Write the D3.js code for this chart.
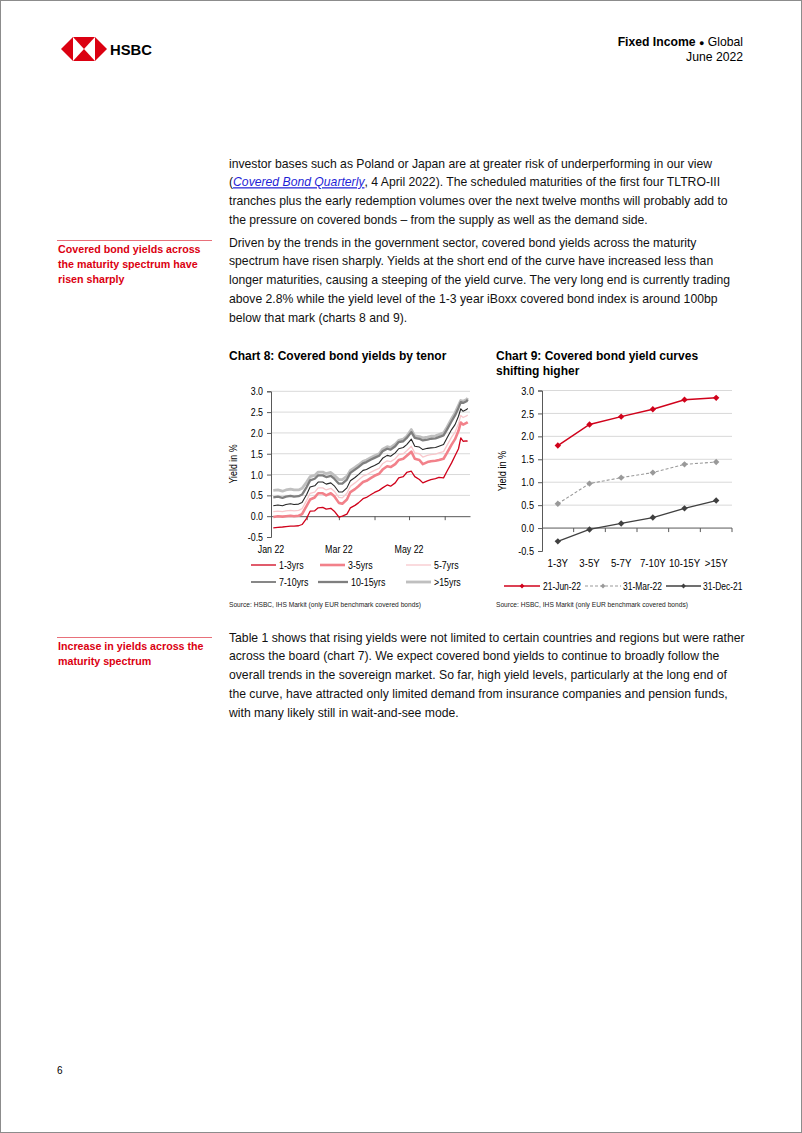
<!DOCTYPE html>
<html><head><meta charset="utf-8">
<script src="https://cdn.jsdelivr.net/npm/d3@7"></script>
<style>
html,body{margin:0;padding:0;background:#fff;}
svg{display:block;font-family:"Liberation Sans",Arial,sans-serif;}
</style></head>
<body>
<svg id="page" width="802" height="1133"></svg>
<script>
// ---------- DATA ----------
const dates = ["2022-01-03","2022-01-07","2022-01-11","2022-01-14","2022-01-18","2022-01-21","2022-01-25","2022-01-28",
"2022-02-01","2022-02-04","2022-02-08","2022-02-11","2022-02-15","2022-02-18","2022-02-22","2022-02-25",
"2022-03-01","2022-03-04","2022-03-08","2022-03-11","2022-03-15","2022-03-18","2022-03-22","2022-03-25","2022-03-29",
"2022-04-01","2022-04-05","2022-04-08","2022-04-12","2022-04-15","2022-04-19","2022-04-22","2022-04-26","2022-04-29",
"2022-05-03","2022-05-06","2022-05-10","2022-05-13","2022-05-17","2022-05-20","2022-05-24","2022-05-27","2022-05-31",
"2022-06-03","2022-06-07","2022-06-10","2022-06-13","2022-06-15","2022-06-17","2022-06-20","2022-06-21"];
const y1_3 = [-0.28,-0.27,-0.26,-0.25,-0.24,-0.24,-0.23,-0.20,
 -0.05,0.12,0.13,0.20,0.21,0.17,0.19,0.12,
 -0.02,0.00,0.05,0.20,0.26,0.32,0.42,0.45,0.52,
 0.57,0.62,0.68,0.75,0.72,0.80,0.92,0.95,1.05,
 1.08,0.95,0.88,0.80,0.85,0.88,0.90,0.93,0.92,
 1.08,1.28,1.45,1.62,1.88,1.80,1.81,1.80];
const y3_5 = [-0.02,0.00,-0.01,0.00,0.01,0.00,0.01,0.05,
 0.25,0.40,0.45,0.55,0.55,0.50,0.55,0.48,
 0.32,0.30,0.40,0.58,0.65,0.72,0.82,0.85,0.92,
 0.97,1.02,1.12,1.20,1.18,1.25,1.35,1.38,1.45,
 1.55,1.38,1.35,1.25,1.30,1.32,1.33,1.35,1.38,
 1.52,1.72,1.85,2.05,2.25,2.20,2.24,2.26];
const y5_7 = [0.11,0.12,0.11,0.13,0.14,0.13,0.14,0.18,
 0.38,0.55,0.58,0.68,0.68,0.63,0.67,0.60,
 0.45,0.44,0.55,0.72,0.80,0.87,0.96,0.99,1.06,
 1.10,1.15,1.26,1.33,1.31,1.38,1.48,1.50,1.57,
 1.68,1.52,1.50,1.42,1.46,1.48,1.49,1.52,1.55,
 1.70,1.90,2.02,2.22,2.42,2.37,2.41,2.43];
const y7_10 = [0.25,0.27,0.25,0.28,0.30,0.28,0.29,0.33,
 0.52,0.70,0.73,0.82,0.82,0.77,0.80,0.73,
 0.58,0.58,0.68,0.85,0.93,1.00,1.10,1.12,1.18,
 1.22,1.28,1.39,1.46,1.44,1.52,1.62,1.65,1.72,
 1.85,1.68,1.66,1.60,1.63,1.64,1.65,1.68,1.72,
 1.88,2.08,2.20,2.40,2.58,2.52,2.56,2.59];
const y10_15 = [0.45,0.47,0.44,0.47,0.49,0.47,0.48,0.52,
 0.70,0.86,0.90,0.98,0.98,0.94,0.97,0.90,
 0.78,0.78,0.88,1.04,1.12,1.18,1.27,1.30,1.36,
 1.40,1.45,1.56,1.62,1.60,1.68,1.78,1.80,1.88,
 2.02,1.88,1.86,1.82,1.84,1.86,1.87,1.90,1.94,
 2.08,2.28,2.42,2.60,2.74,2.72,2.76,2.80];
const y15p = [0.62,0.63,0.60,0.63,0.65,0.63,0.63,0.67,
 0.82,0.95,0.98,1.06,1.06,1.02,1.05,0.98,
 0.88,0.88,0.96,1.10,1.17,1.23,1.32,1.35,1.41,
 1.45,1.50,1.61,1.67,1.65,1.73,1.82,1.85,1.92,
 2.08,1.93,1.91,1.88,1.90,1.92,1.93,1.96,2.00,
 2.14,2.34,2.48,2.66,2.78,2.76,2.80,2.84];
const tenorNames = ["1-3yrs","3-5yrs","5-7yrs","7-10yrs","10-15yrs",">15yrs"];
const yTicks = [-0.5,0,0.5,1,1.5,2,2.5,3];
const monthTickDates = ["2022-01-01","2022-02-01","2022-03-01","2022-04-01","2022-05-01","2022-06-01"];
const monthLabels = ["Jan 22","","Mar 22","","May 22",""];

const curveCats = ["1-3Y","3-5Y","5-7Y","7-10Y","10-15Y",">15Y"];
const curveJun21 = [1.80,2.26,2.43,2.59,2.80,2.84];
const curveMar31 = [0.53,0.97,1.10,1.21,1.39,1.44];
const curveDec31 = [-0.29,-0.03,0.10,0.23,0.43,0.60];
const curveNames = ["21-Jun-22","31-Mar-22","31-Dec-21"];

// ---------- PAGE ----------
const svg = d3.select("#page");
const RED = "#DB0011";
svg.append("rect").attr("x",0.5).attr("y",0.5).attr("width",801).attr("height",1132)
  .attr("fill","#fff").attr("stroke","#8c8c8c");

// logo
const lg = svg.append("g").attr("transform","translate(61,37)");
const h = 24, w = 46;
lg.append("path").attr("d",`M0,${h/2}L${h/2},0L${h/2},${h}Z`).attr("fill",RED);
lg.append("path").attr("d",`M${w},${h/2}L${w-h/2},0L${w-h/2},${h}Z`).attr("fill",RED);
lg.append("path").attr("d",`M${h/2},0L${w-h/2},0L${w/2},${h/2}Z`).attr("fill",RED);
lg.append("path").attr("d",`M${h/2},${h}L${w-h/2},${h}L${w/2},${h/2}Z`).attr("fill",RED);
svg.append("text").attr("x",110).attr("y",54.5).style("font-size","14.8px").style("font-weight","bold")
  .attr("fill","#000").text("HSBC");

// header right
const hd = svg.append("text").attr("x",743).attr("y",45.5).attr("text-anchor","end").style("font-size","12.2px").attr("fill","#000");
hd.append("tspan").style("font-weight","bold").text("Fixed Income ");
hd.append("tspan").style("font-size","9px").text("\u25CF");
hd.append("tspan").text(" Global");
svg.append("text").attr("x",743).attr("y",60.5).attr("text-anchor","end").style("font-size","12.2px").text("June 2022");

// body text
function para(lines, x, y0, lh){
  lines.forEach((l,i)=>{
    const t = svg.append("text").attr("x",x).attr("y",y0+i*lh).style("font-size","12.2px").attr("fill","#111");
    if (Array.isArray(l)) {
      l.forEach(seg=>{
        const ts = t.append("tspan").text(seg.t);
        if (seg.link) ts.style("font-style","italic").style("text-decoration","underline").attr("fill","#1f1fd6");
      });
    } else t.text(l);
  });
}
para(["investor bases such as Poland or Japan are at greater risk of underperforming in our view",
  [{t:"("},{t:"Covered Bond Quarterly",link:true},{t:", 4 April 2022). The scheduled maturities of the first four TLTRO-III"}],
  "tranches plus the early redemption volumes over the next twelve months will probably add to",
  "the pressure on covered bonds \u2013 from the supply as well as the demand side."], 229, 167.5, 18.75);
para(["Driven by the trends in the government sector, covered bond yields across the maturity",
  "spectrum have risen sharply. Yields at the short end of the curve have increased less than",
  "longer maturities, causing a steeping of the yield curve. The very long end is currently trading",
  "above 2.8% while the yield level of the 1-3 year iBoxx covered bond index is around 100bp",
  "below that mark (charts 8 and 9)."], 229, 246.5, 18.75);
para(["Table 1 shows that rising yields were not limited to certain countries and regions but were rather",
  "across the board (chart 7). We expect covered bond yields to continue to broadly follow the",
  "overall trends in the sovereign market. So far, high yield levels, particularly at the long end of",
  "the curve, have attracted only limited demand from insurance companies and pension funds,",
  "with many likely still in wait-and-see mode."], 229, 641.5, 18.75);

// sidebars
function side(lines, yLine){
  svg.append("line").attr("x1",57).attr("x2",212).attr("y1",yLine).attr("y2",yLine).attr("stroke","#e8707a").attr("stroke-width",1);
  lines.forEach((l,i)=>svg.append("text").attr("x",58).attr("y",yLine+12.8+i*14.8).style("font-size","10.7px")
    .style("font-weight","bold").attr("fill",RED).text(l));
}
side(["Covered bond yields across","the maturity spectrum have","risen sharply"],240.5);
side(["Increase in yields across the","maturity spectrum"],637.5);

svg.append("text").attr("x",57).attr("y",1074).style("font-size","10px").text("6");

// narrow text helper
const NX = 0.82;
function ntext(g,x,y,str,anchor,size,fill){
  return g.append("text").attr("transform",`translate(${x},${y}) scale(${NX},1)`)
    .attr("text-anchor",anchor||"start").style("font-size",size||"10.8px").attr("fill",fill||"#000").text(str);
}

// ---------- CHART 8 ----------
const parse = d3.timeParse("%Y-%m-%d");
const c8 = svg.append("g");
svg.append("text").attr("x",229).attr("y",360).style("font-size","12px").style("font-weight","bold").text("Chart 8: Covered bond yields by tenor");
const x8 = d3.scaleTime().domain([parse("2022-01-01"),parse("2022-06-23")]).range([271,470]);
const y8 = d3.scaleLinear().domain([-0.5,3]).range([537,391.3]);
c8.selectAll("line.g").data(yTicks.filter(d=>d>0)).join("line")
  .attr("x1",271).attr("x2",470).attr("y1",d=>y8(d)).attr("y2",d=>y8(d)).attr("stroke","#d9d9d9").attr("stroke-width",1);
const ya8 = c8.append("g").attr("transform","translate(271,0)")
  .call(d3.axisLeft(y8).tickValues(yTicks).tickSize(4).tickPadding(4).tickFormat(d=>d.toFixed(1)));
ya8.selectAll("text").attr("transform",`scale(${NX},1)`).attr("x",-8/NX).style("font-size","10.8px").style("font-family","Liberation Sans, Arial").attr("fill","#000");
ya8.selectAll("path,line").attr("stroke","#595959");
const xa8 = c8.append("g").attr("transform",`translate(0,${y8(0)})`)
  .call(d3.axisBottom(x8).tickValues(monthTickDates.map(parse)).tickSize(4).tickSizeOuter(0).tickFormat(""));
xa8.selectAll("path,line").attr("stroke","#595959");
monthTickDates.forEach((d,i)=>{ if(monthLabels[i]) ntext(c8,x8(parse(d)),553,monthLabels[i],"middle"); });
ntext(c8,0,0,"Yield in %","middle").attr("transform",`translate(237,464) rotate(-90) scale(${NX},1)`);

const tenorSeries = [y1_3,y3_5,y5_7,y7_10,y10_15,y15p];
const tenorColors = ["#D0021B","#F2818A","#F8C8CC","#262626","#7F7F7F","#BFBFBF"];
const tenorWidths = [1.3,2.6,1.3,1.1,2.3,2.8];
const line8 = d3.line().x((d,i)=>x8(parse(dates[i]))).y(d=>y8(d));
[5,4,3,2,1,0].forEach(k=>{
  c8.append("path").attr("d",line8(tenorSeries[k])).attr("fill","none")
    .attr("stroke",tenorColors[k]).attr("stroke-width",tenorWidths[k]).attr("stroke-linejoin","round");
});
const legPos = [[251,569],[320,569],[406,569],[251,586],[318,586],[406,586]];
tenorNames.forEach((n,k)=>{
  const [lx,ly]=legPos[k];
  const len = k===4?30:25;
  c8.append("line").attr("x1",lx).attr("x2",lx+len).attr("y1",ly-4).attr("y2",ly-4)
    .attr("stroke",tenorColors[k]).attr("stroke-width",tenorWidths[k]);
  ntext(c8,lx+len+3,ly,n,"start");
});
ntext(c8,229,607,"Source: HSBC, IHS Markit (only EUR benchmark covered bonds)","start","8.1px","#222");

// ---------- CHART 9 ----------
const c9 = svg.append("g");
svg.append("text").attr("x",496).attr("y",360).style("font-size","12px").style("font-weight","bold").text("Chart 9: Covered bond yield curves");
svg.append("text").attr("x",496).attr("y",374.5).style("font-size","12px").style("font-weight","bold").text("shifting higher");
const x9 = d3.scaleBand().domain(curveCats).range([542,732]);
const y9 = d3.scaleLinear().domain([-0.5,3]).range([551,390.5]);
c9.selectAll("line.g").data(yTicks.filter(d=>d>0)).join("line")
  .attr("x1",542).attr("x2",732).attr("y1",d=>y9(d)).attr("y2",d=>y9(d)).attr("stroke","#d9d9d9").attr("stroke-width",1);
const ya9 = c9.append("g").attr("transform","translate(542,0)")
  .call(d3.axisLeft(y9).tickValues(yTicks).tickSize(4).tickPadding(4).tickFormat(d=>d.toFixed(1)));
ya9.selectAll("text").attr("transform",`scale(${NX},1)`).attr("x",-8/NX).style("font-size","11.2px").style("font-family","Liberation Sans, Arial").attr("fill","#000");
ya9.selectAll("path,line").attr("stroke","#595959");
const xa9 = c9.append("g").attr("transform",`translate(0,${y9(0)})`);
xa9.append("line").attr("x1",542).attr("x2",732).attr("stroke","#595959");
xa9.selectAll("line.t").data(curveCats.slice(1).concat(["end"])).join("line")
  .attr("x1",(d,i)=>542+(i+1)*x9.bandwidth()).attr("x2",(d,i)=>542+(i+1)*x9.bandwidth())
  .attr("y1",0).attr("y2",4).attr("stroke","#595959");
curveCats.forEach(c=>ntext(c9,x9(c)+x9.bandwidth()/2,566.5,c,"middle","11.8px"));
ntext(c9,0,0,"Yield in %","middle","11.2px").attr("transform",`translate(506,471) rotate(-90) scale(${NX},1)`);

const curveSeries = [curveJun21,curveMar31,curveDec31];
const curveColors = ["#D0021B","#999999","#404040"];
const curveDash = [null,"3,2",null];
const curveW = [1.5,1.1,1.3];
const line9 = d3.line().x((d,i)=>x9(curveCats[i])+x9.bandwidth()/2).y(d=>y9(d));
const diamond = (cx,cy,r)=>`M${cx},${cy-r}L${cx+r},${cy}L${cx},${cy+r}L${cx-r},${cy}Z`;
[2,1,0].forEach(k=>{
  c9.append("path").attr("d",line9(curveSeries[k])).attr("fill","none").attr("stroke",curveColors[k])
    .attr("stroke-width",curveW[k]).attr("stroke-dasharray",curveDash[k]);
  c9.selectAll(null).data(curveSeries[k]).join("path")
    .attr("d",(d,i)=>diamond(x9(curveCats[i])+x9.bandwidth()/2,y9(d),3.2)).attr("fill",curveColors[k]);
});
const leg9 = [[504,540,543],[585,621,623],[666,701,703]];
curveNames.forEach((n,k)=>{
  const [a,b,tx]=leg9[k];
  c9.append("line").attr("x1",a).attr("x2",b).attr("y1",586).attr("y2",586).attr("stroke",curveColors[k])
    .attr("stroke-width",curveW[k]).attr("stroke-dasharray",curveDash[k]);
  c9.append("path").attr("d",diamond((a+b)/2,586,2.4)).attr("fill",curveColors[k]);
  ntext(c9,tx,590,n,"start","10.3px");
});
ntext(c9,496,607,"Source: HSBC, IHS Markit (only EUR benchmark covered bonds)","start","8.1px","#222");
</script>
</body></html>
